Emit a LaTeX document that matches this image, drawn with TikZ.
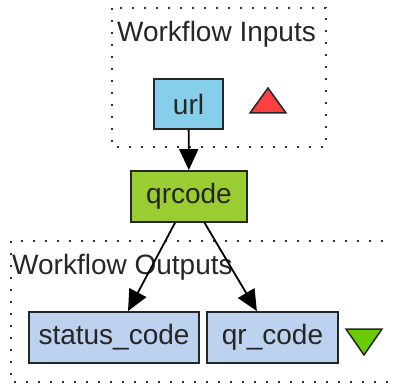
\documentclass[tikz,border=0pt]{standalone}
\usepackage{fontspec}
\setmainfont{Liberation Sans}
\usetikzlibrary{arrows.meta}

\definecolor{inputblue}{HTML}{87CEEB}
\definecolor{stepgreen}{HTML}{9ACD32}
\definecolor{outputblue}{HTML}{BCD2EE}
\definecolor{inred}{HTML}{FF4040}
\definecolor{outgreen}{HTML}{66CC00}

\begin{document}
\begin{tikzpicture}[x=1pt, y=-1pt,
    every node/.style={font=\fontsize{28}{33}\selectfont, text=black!85},
    box/.style={draw=black!85, line width=1.8pt, inner sep=0pt, minimum height=51pt},
    cluster/.style={draw=black!80, line width=1.6pt, dash pattern=on 1.6pt off 10.4pt},
    flow/.style={draw=black, line width=1.8pt, -{Triangle[length=21pt, width=19pt]}}]

            \useasboundingbox (0,0) rectangle (393,387);

            % clusters
            \draw[cluster] (112,8) rectangle (326,147);
            \node[anchor=base] (inlabel) at (216.5,42) {Workflow Inputs};
            \draw[cluster] (11,241) rectangle (398,382);
            \node[anchor=base west, inner sep=0pt] (outlabel) at (12,274) {Workflow Outputs};

            % steps
            \node[box, fill=inputblue, minimum width=69pt, minimum height=50pt] (url) at (188.5,104) {url};
            \node[box, fill=stepgreen, minimum width=116pt] (qrcode) at (189,196.5) {qrcode};
            \node[box, fill=outputblue, minimum width=170pt] (status_code) at (114,337.5) {status\_code};
            \node[box, fill=outputblue, minimum width=131pt] (qr_code) at (272.5,337.5) {qr\_code};

            % markers
            \filldraw[fill=inred, draw=black!85, line width=1.5pt] (250,113) -- (286,113) -- (268,88) -- cycle;
            \filldraw[fill=outgreen, draw=black!85, line width=1.5pt] (346,329) -- (382,329) -- (364,355) -- cycle;

            % links
            \draw[flow] (url) -- (qrcode);
            \draw[flow] (qrcode) -- (status_code);
            \draw[flow] (qrcode) -- (qr_code);

        \end{tikzpicture}
\end{document}
